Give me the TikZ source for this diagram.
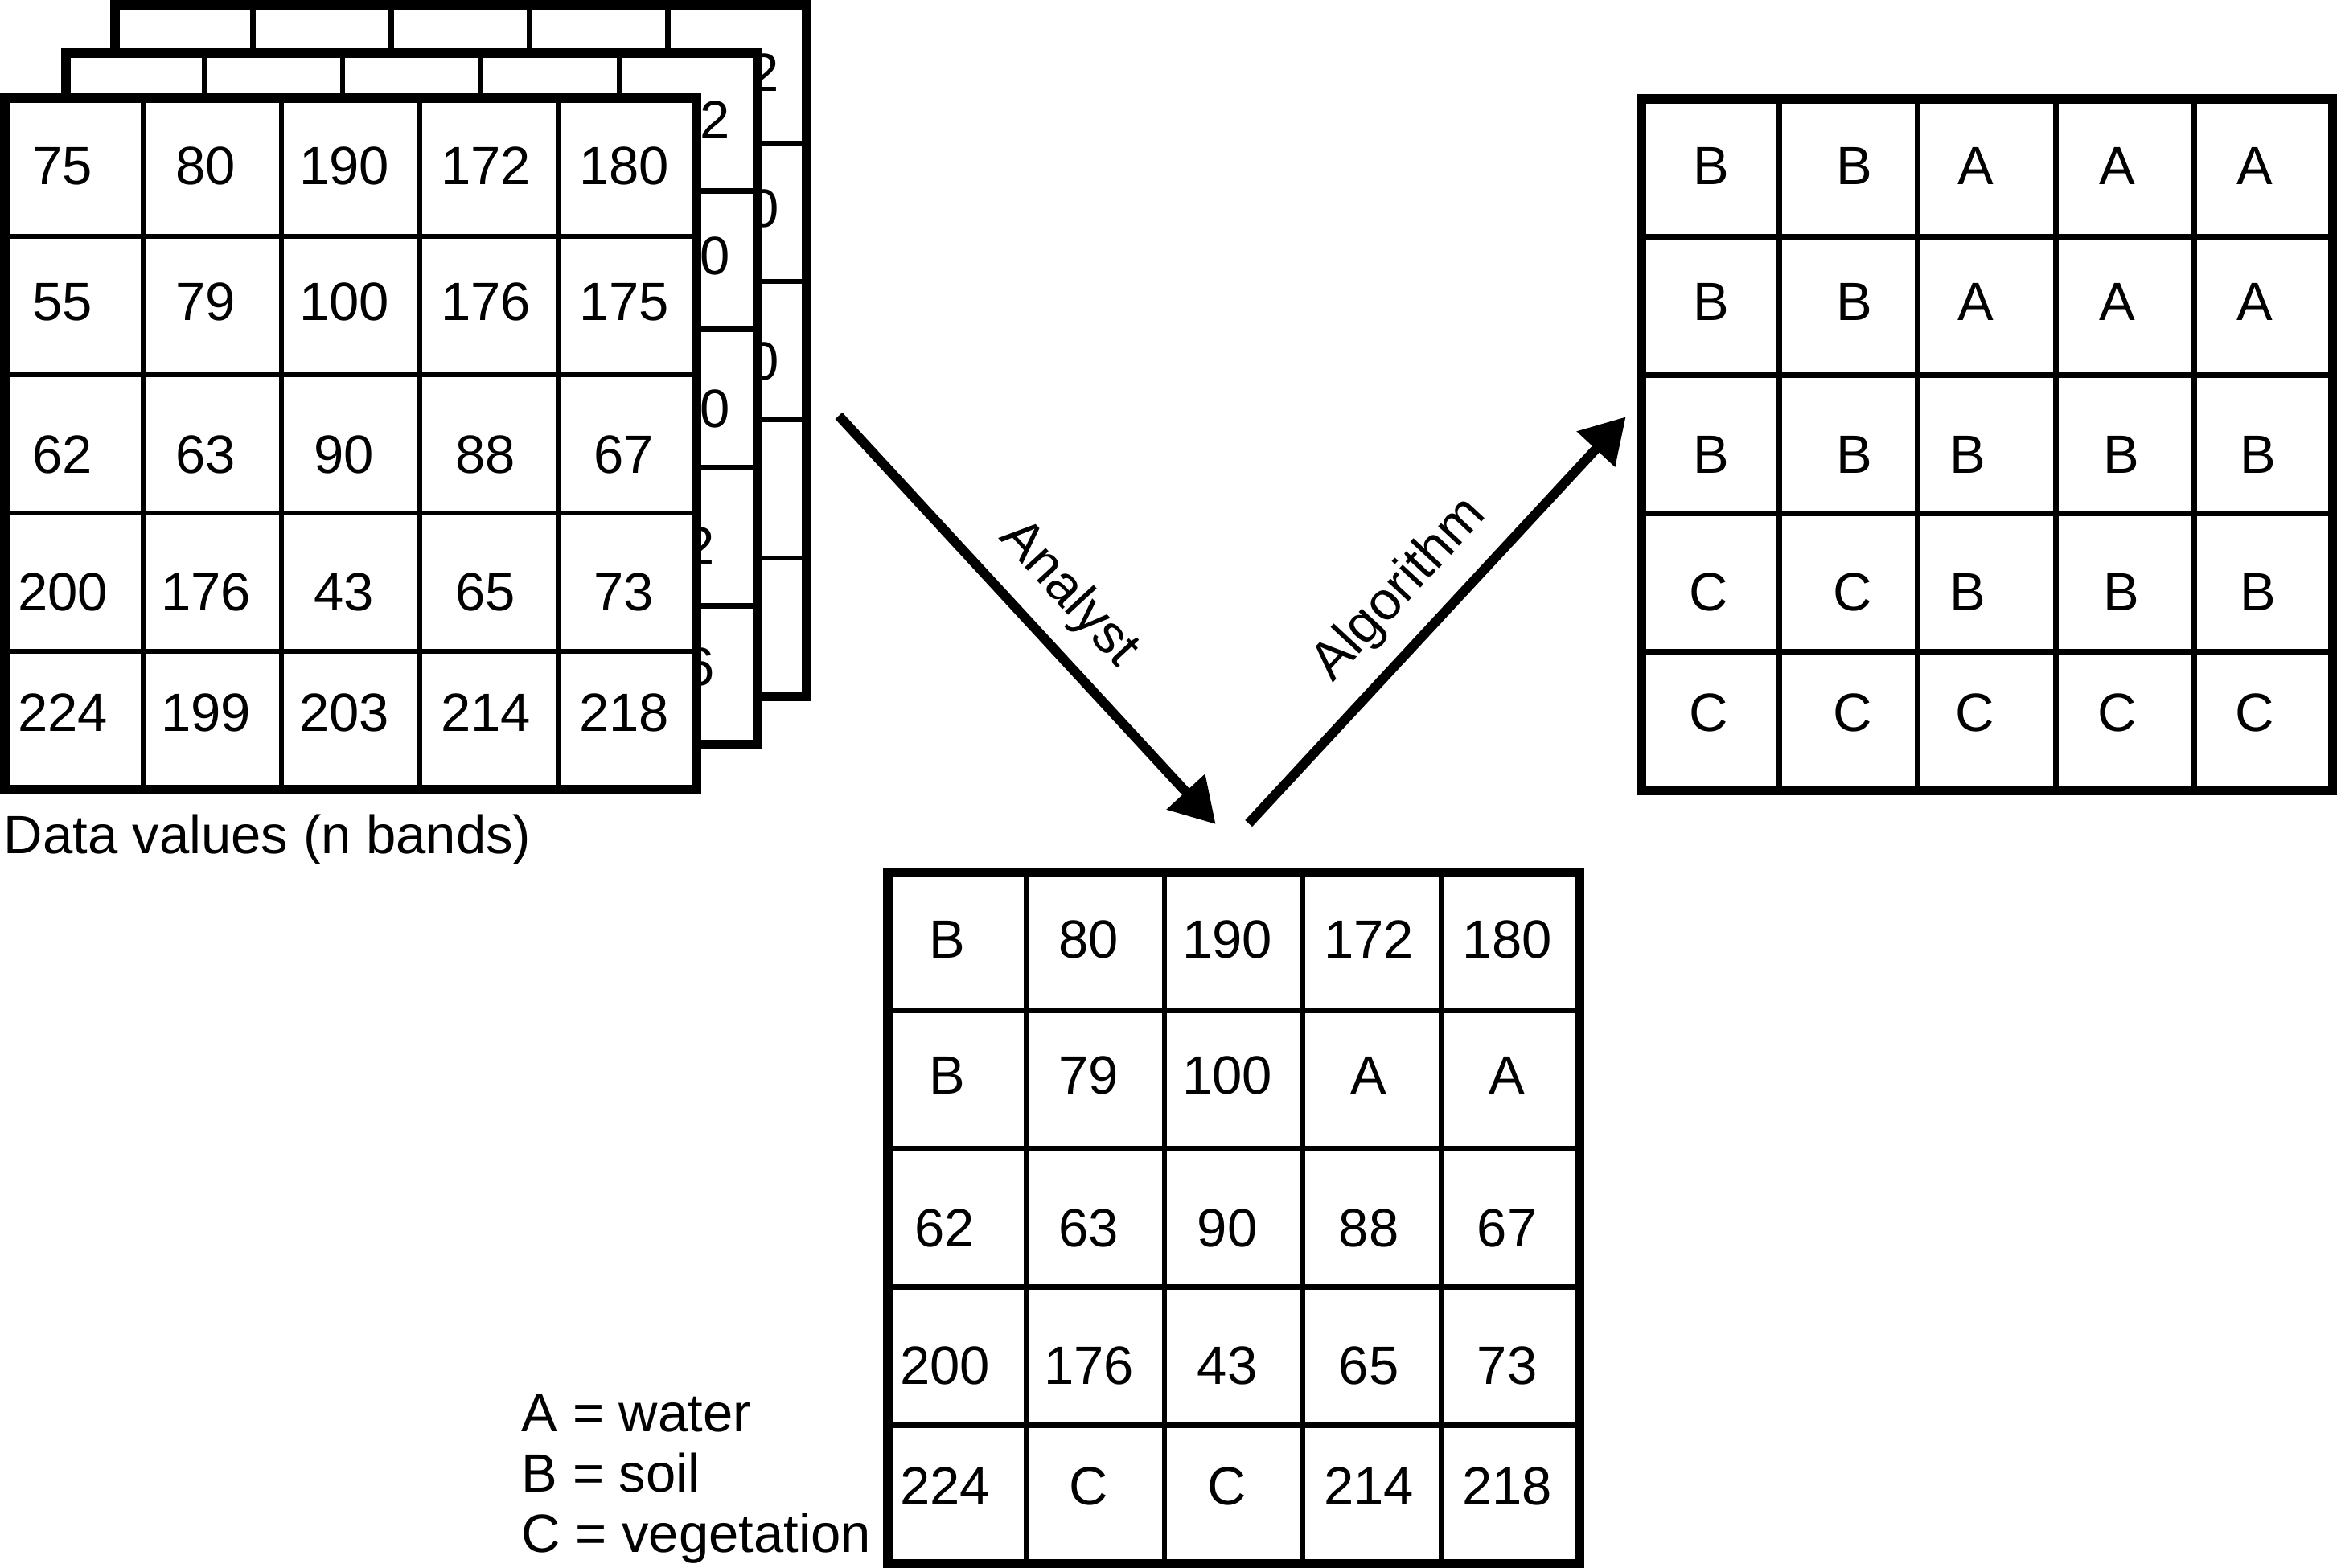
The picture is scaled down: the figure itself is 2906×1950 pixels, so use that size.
\documentclass[tikz,border=0pt]{standalone}
\usepackage{fontspec}
\setmainfont{Liberation Sans}
\usetikzlibrary{arrows.meta}
\tikzset{
  outerline/.style={line width=3pt},
  innerline/.style={line width=1.7pt},
  txtfont/.style={font=\fontsize{16.75pt}{20pt}\selectfont},
  celltext/.style={txtfont, anchor=base, inner sep=0pt},
  plaintext/.style={txtfont, anchor=base west, inner sep=0pt},
  flowarrow/.style={line width=3pt, -{Triangle[length=13.75pt,width=15.5pt]}},
  arrowlabel/.style={txtfont, sloped, above=5.5pt, inner sep=0pt},
}
\newcommand\rsgrid[2]{%
  \fill[white] (#1,#2) rectangle ++(860,860);
  \foreach \i in {1,2,3,4}{%
    \draw[innerline] ({#1+\i*172},#2) -- ++(0,860);
    \draw[innerline] (#1,{#2+\i*172}) -- ++(860,0);
  }%
  \draw[outerline] (#1,#2) rectangle ++(860,860);
}
\newcommand\rsrow[6]{%
  \foreach \t [count=\c] in {#5}{%
    \pgfmathsetmacro\rscx{#1+{#4}[\c-1]}%
    \pgfmathsetmacro\rscy{#2+{107,276,466,637,787}[#3-1]}%
    \node[celltext] (#6-#3-\c) at (\rscx,\rscy) {\t};
  }%
}
\begin{document}
\begin{tikzpicture}[x=0.25pt,y=-0.25pt]
\fill[white] (0,0) rectangle (2906,1950);
\useasboundingbox (0,0) rectangle (2906,1950);

% back band
\rsgrid{142.5}{6}
\node[celltext] (b-1-5) at (912.5,113) {192};
\node[celltext] (b-2-5) at (912.5,282) {160};
\node[celltext] (b-3-5) at (912.5,472) {150};
\node[celltext] (b-4-5) at (912.5,643) {78};
\node[celltext] (b-5-5) at (912.5,793) {64};

% middle band
\rsgrid{82}{65.5}
\node[celltext] (m-1-5) at (852,172.5) {182};
\node[celltext] (m-2-5) at (852,341.5) {170};
\node[celltext] (m-3-5) at (852,531.5) {120};
\node[celltext] (m-4-5) at (852,702.5) {72};
\node[celltext] (m-5-5) at (852,852.5) {66};

% front band
\rsgrid{6}{122}
\rsrow{6}{122}{1}{72,250,422,598,770}{75,80,190,172,180}{f}
\rsrow{6}{122}{2}{72,250,422,598,770}{55,79,100,176,175}{f}
\rsrow{6}{122}{3}{72,250,422,598,770}{62,63,90,88,67}{f}
\rsrow{6}{122}{4}{72,250,422,598,770}{200,176,43,65,73}{f}
\rsrow{6}{122}{5}{72,250,422,598,770}{224,199,203,214,218}{f}
\node[plaintext] (dv) at (4,1061) {Data values (n bands)};

% result grid (right)
\rsgrid{2040.5}{122.5}
\rsrow{2040.5}{122.5}{1}{87.5,265.5,416,592.5,763}{B,B,A,A,A}{r}
\rsrow{2040.5}{122.5}{2}{87.5,265.5,416,592.5,763}{B,B,A,A,A}{r}
\rsrow{2040.5}{122.5}{3}{87.5,265.5,406.5,597.5,767.5}{B,B,B,B,B}{r}
\rsrow{2040.5}{122.5}{4}{84.6,262.7,406.5,597.5,767.5}{C,C,B,B,B}{r}
\rsrow{2040.5}{122.5}{5}{84.6,262.7,414.7,592.5,763}{C,C,C,C,C}{r}

% training grid (bottom)
\rsgrid{1104}{1084.5}
\rsrow{1104}{1084.5}{1}{73.5,250,422,598,770}{B,80,190,172,180}{t}
\rsrow{1104}{1084.5}{2}{73.5,250,422,598,770}{B,79,100,A,A}{t}
\rsrow{1104}{1084.5}{3}{71,250,422,598,770}{62,63,90,88,67}{t}
\rsrow{1104}{1084.5}{4}{71,250,422,598,770}{200,176,43,65,73}{t}
\rsrow{1104}{1084.5}{5}{71,250,422,598,770}{224,C,C,214,218}{t}

% legend
\node[plaintext] (legA) at (648,1780.7) {A = water};
\node[plaintext] (legB) at (648,1855.7) {B = soil};
\node[plaintext] (legC) at (648,1930) {C = vegetation};

% arrows
\coordinate (anS) at (1043,517);
\coordinate (anE) at (1511.7,1025);
\coordinate (alS) at (1552.7,1024);
\coordinate (alE) at (2021.7,518.3);
\draw[flowarrow] (anS) -- node[arrowlabel, pos=0.516] (anL) {Analyst} (anE);
\draw[flowarrow] (alS) -- node[arrowlabel, pos=0.494] (alL) {Algorithm} (alE);
\end{tikzpicture}
\end{document}
